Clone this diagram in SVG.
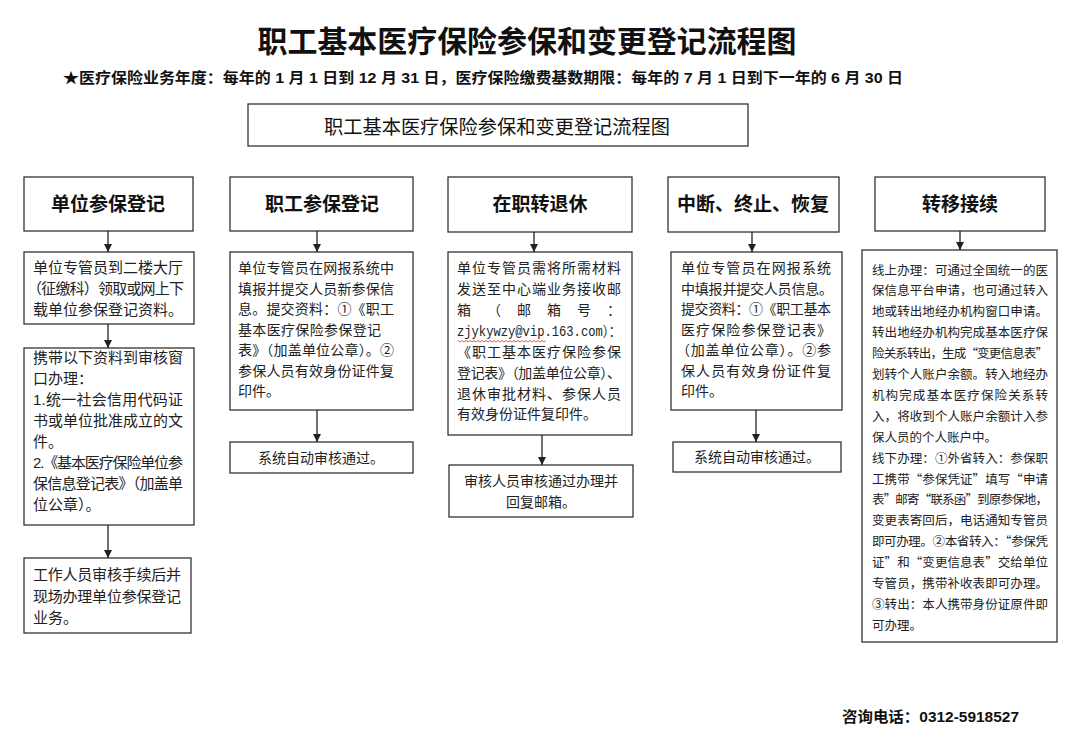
<svg xmlns="http://www.w3.org/2000/svg" width="1080" height="730" viewBox="0 0 1080 730">
<style>
.bg{fill:#fff}
.box{fill:#fff;stroke:#333;stroke-width:1.3}
.title{font-family:"Liberation Sans","Noto Sans CJK SC",sans-serif;font-size:30px;font-weight:700;fill:#111;text-anchor:middle}
.sub{font-family:"Liberation Sans","Noto Sans CJK SC",sans-serif;font-size:15px;font-weight:700;fill:#111}
.tb{font-family:"Noto Sans CJK SC",sans-serif;font-size:19px;fill:#111;text-anchor:middle}
.hd{font-family:"Noto Sans CJK SC",sans-serif;font-size:19px;font-weight:700;fill:#111;text-anchor:middle}
.t15{font-family:"Liberation Sans","Noto Sans CJK SC",sans-serif;font-size:15px;fill:#222}
.t14{font-family:"Liberation Sans","Noto Sans CJK SC",sans-serif;font-size:14px;fill:#222}
.t12{font-family:"Noto Sans CJK SC",sans-serif;font-size:12.5px;fill:#222}
.mono{font-family:"Liberation Mono","Noto Sans CJK SC",monospace;font-size:14px;fill:#222}
.c{text-anchor:middle}
.conn line{stroke:#222;stroke-width:1.3;marker-end:url(#ah)}
</style>
<defs>
<marker id="ah" viewBox="0 0 10 10" refX="10" refY="5" markerWidth="8" markerHeight="8" markerUnits="userSpaceOnUse" orient="auto">
<path d="M0,0 L10,5 L0,10 Z" fill="#222"/>
</marker>
</defs>
<rect class="bg" x="0" y="0" width="1080" height="730"/>

<g id="title">
<text class="title" x="527" y="52" textLength="539" lengthAdjust="spacingAndGlyphs">职工基本医疗保险参保和变更登记流程图</text>
<text class="sub" x="63" y="83" textLength="840" lengthAdjust="spacingAndGlyphs">★医疗保险业务年度：每年的 1 月 1 日到 12 月 31 日，医疗保险缴费基数期限：每年的 7 月 1 日到下一年的 6 月 30 日</text>
</g>

<g id="title-box">
<rect class="box" x="248" y="104" width="500" height="42"/>
<text class="tb" x="497" y="134" textLength="346" lengthAdjust="spacingAndGlyphs">职工基本医疗保险参保和变更登记流程图</text>
</g>

<!-- Column headers -->
<g id="h1"><rect class="box" x="24" y="177" width="169" height="54"/><text class="hd" x="108" y="211">单位参保登记</text></g>
<g id="h2"><rect class="box" x="230" y="177" width="183" height="54"/><text class="hd" x="322" y="211">职工参保登记</text></g>
<g id="h3"><rect class="box" x="448" y="177" width="184" height="55"/><text class="hd" x="540" y="211">在职转退休</text></g>
<g id="h4"><rect class="box" x="668" y="177" width="171" height="55"/><text class="hd" x="753" y="211">中断、终止、恢复</text></g>
<g id="h5"><rect class="box" x="875" y="177" width="170" height="54"/><text class="hd" x="960" y="211">转移接续</text></g>

<!-- Column 1 -->
<g id="c1b1">
<rect class="box" x="24" y="252" width="170" height="72"/>
<text class="t15" x="33" y="273" textLength="150" lengthAdjust="spacing">单位专管员到二楼大厅</text>
<text class="t15" x="27" y="294" textLength="157" lengthAdjust="spacing">（征缴科）领取或网上下</text>
<text class="t15" x="33" y="315" textLength="150" lengthAdjust="spacing">载单位参保登记资料。</text>
</g>
<g id="c1b2">
<rect class="box" x="24" y="348" width="170" height="177"/>
<text class="t15" x="33" y="363" textLength="150" lengthAdjust="spacing">携带以下资料到审核窗</text>
<text class="t15" x="33" y="384">口办理：</text>
<text class="t15" x="33" y="405" textLength="150" lengthAdjust="spacing">1.统一社会信用代码证</text>
<text class="t15" x="33" y="426" textLength="150" lengthAdjust="spacing">书或单位批准成立的文</text>
<text class="t15" x="33" y="447">件。</text>
<text class="t15" x="33" y="468" textLength="150" lengthAdjust="spacing">2.《基本医疗保险单位参</text>
<text class="t15" x="33" y="489" textLength="150" lengthAdjust="spacing">保信息登记表》（加盖单</text>
<text class="t15" x="33" y="510">位公章）。</text>
</g>
<g id="c1b3">
<rect class="box" x="24" y="558" width="167" height="75"/>
<text class="t15" x="33" y="580" textLength="148" lengthAdjust="spacing">工作人员审核手续后并</text>
<text class="t15" x="33" y="602" textLength="148" lengthAdjust="spacing">现场办理单位参保登记</text>
<text class="t15" x="33" y="623">业务。</text>
</g>

<!-- Column 2 -->
<g id="c2b1">
<rect class="box" x="230" y="252" width="183" height="158"/>
<text class="t14" x="238" y="273" textLength="156" lengthAdjust="spacing">单位专管员在网报系统中</text>
<text class="t14" x="238" y="293.5" textLength="156" lengthAdjust="spacing">填报并提交人员新参保信</text>
<text class="t14" x="238" y="314" textLength="156" lengthAdjust="spacing">息。提交资料：①《职工</text>
<text class="t14" x="238" y="334.5" textLength="143" lengthAdjust="spacing">基本医疗保险参保登记</text>
<text class="t14" x="238" y="355" textLength="156" lengthAdjust="spacing">表》（加盖单位公章）。②</text>
<text class="t14" x="238" y="375.5" textLength="156" lengthAdjust="spacing">参保人员有效身份证件复</text>
<text class="t14" x="238" y="396">印件。</text>
</g>
<g id="c2b2">
<rect class="box" x="230" y="442" width="183" height="31"/>
<text class="t14 c" x="321" y="462.5">系统自动审核通过。</text>
</g>

<!-- Column 3 -->
<g id="c3b1">
<rect class="box" x="448" y="252" width="184" height="183"/>
<text class="t14" x="457" y="273" textLength="164" lengthAdjust="spacing">单位专管员需将所需材料</text>
<text class="t14" x="457" y="294" textLength="164" lengthAdjust="spacing">发送至中心端业务接收邮</text>
<text class="t14" x="457" y="315" textLength="164" lengthAdjust="spacing">箱（邮箱号：</text>
<text class="mono" x="457" y="336" textLength="164" lengthAdjust="spacingAndGlyphs">zjykywzy@vip.163.com）：</text>
<path d="M458,340.5 l2,1.5 l2,-1.5 l2,1.5 l2,-1.5 l2,1.5 l2,-1.5 l2,1.5 l2,-1.5 l2,1.5 l2,-1.5 l2,1.5 l2,-1.5 l2,1.5 l2,-1.5 l2,1.5 l2,-1.5 l2,1.5 l2,-1.5 l2,1.5 l2,-1.5 l2,1.5 l2,-1.5 l2,1.5 l2,-1.5 l2,1.5 l2,-1.5 l2,1.5 l2,-1.5 l2,1.5 l2,-1.5 l2,1.5 l2,-1.5 l2,1.5 l2,-1.5 l2,1.5 l2,-1.5 l2,1.5 l2,-1.5 l2,1.5 l2,-1.5 l2,1.5 l2,-1.5 l2,1.5 l2,-1.5" fill="none" stroke="#d33" stroke-width="0.8"/>
<text class="t14" x="457" y="357" textLength="164" lengthAdjust="spacing">《职工基本医疗保险参保</text>
<text class="t14" x="457" y="378" textLength="164" lengthAdjust="spacing">登记表》（加盖单位公章）、</text>
<text class="t14" x="457" y="399" textLength="164" lengthAdjust="spacing">退休审批材料、参保人员</text>
<text class="t14" x="457" y="419" textLength="140" lengthAdjust="spacing">有效身份证件复印件。</text>
</g>
<g id="c3b2">
<rect class="box" x="449" y="465" width="184" height="52"/>
<text class="t14 c" x="541" y="485.5">审核人员审核通过办理并</text>
<text class="t14 c" x="541" y="507">回复邮箱。</text>
</g>

<!-- Column 4 -->
<g id="c4b1">
<rect class="box" x="671" y="252" width="171" height="158"/>
<text class="t14" x="681" y="273" textLength="150" lengthAdjust="spacing">单位专管员在网报系统</text>
<text class="t14" x="681" y="293.5" textLength="152" lengthAdjust="spacing">中填报并提交人员信息。</text>
<text class="t14" x="681" y="314" textLength="150" lengthAdjust="spacing">提交资料：①《职工基本</text>
<text class="t14" x="681" y="334.5" textLength="150" lengthAdjust="spacing">医疗保险参保登记表》</text>
<text class="t14" x="676" y="355" textLength="155" lengthAdjust="spacing">（加盖单位公章）。②参</text>
<text class="t14" x="681" y="375.5" textLength="150" lengthAdjust="spacing">保人员有效身份证件复</text>
<text class="t14" x="681" y="396">印件。</text>
</g>
<g id="c4b2">
<rect class="box" x="673" y="442" width="168" height="30"/>
<text class="t14 c" x="757" y="462">系统自动审核通过。</text>
</g>

<!-- Column 5 -->
<g id="c5b1">
<rect class="box" x="862" y="250" width="195" height="392"/>
<text class="t12" x="872" y="274.5" textLength="176" lengthAdjust="spacing">线上办理：可通过全国统一的医</text>
<text class="t12" x="872" y="295.4" textLength="176" lengthAdjust="spacing">保信息平台申请，也可通过转入</text>
<text class="t12" x="872" y="316.3" textLength="176" lengthAdjust="spacing">地或转出地经办机构窗口申请。</text>
<text class="t12" x="872" y="337.2" textLength="176" lengthAdjust="spacing">转出地经办机构完成基本医疗保</text>
<text class="t12" x="872" y="358.1" textLength="176" lengthAdjust="spacing">险关系转出，生成“变更信息表”</text>
<text class="t12" x="872" y="379" textLength="176" lengthAdjust="spacing">划转个人账户余额。转入地经办</text>
<text class="t12" x="872" y="399.9" textLength="176" lengthAdjust="spacing">机构完成基本医疗保险关系转</text>
<text class="t12" x="872" y="420.8" textLength="176" lengthAdjust="spacing">入，将收到个人账户余额计入参</text>
<text class="t12" x="872" y="441.7">保人员的个人账户中。</text>
<text class="t12" x="872" y="462.6" textLength="176" lengthAdjust="spacing">线下办理：①外省转入：参保职</text>
<text class="t12" x="872" y="483.5" textLength="176" lengthAdjust="spacing">工携带“参保凭证”填写“申请</text>
<text class="t12" x="872" y="504.4" textLength="176" lengthAdjust="spacing">表”邮寄“联系函”到原参保地，</text>
<text class="t12" x="872" y="525.3" textLength="176" lengthAdjust="spacing">变更表寄回后，电话通知专管员</text>
<text class="t12" x="872" y="546.2" textLength="176" lengthAdjust="spacing">即可办理。②本省转入：“参保凭</text>
<text class="t12" x="872" y="567.1" textLength="176" lengthAdjust="spacing">证”和“变更信息表”交给单位</text>
<text class="t12" x="872" y="588" textLength="176" lengthAdjust="spacing">专管员，携带补收表即可办理。</text>
<text class="t12" x="872" y="608.9" textLength="176" lengthAdjust="spacing">③转出：本人携带身份证原件即</text>
<text class="t12" x="872" y="629.8">可办理。</text>
</g>

<g id="phone">
<text class="sub" x="842" y="722" textLength="177" lengthAdjust="spacingAndGlyphs">咨询电话：0312-5918527</text>
</g>

<g id="connectors" class="conn">
<line x1="108" y1="231" x2="108" y2="252"/>
<line x1="108" y1="324" x2="108" y2="348"/>
<line x1="108" y1="525" x2="108" y2="558"/>
<line x1="317" y1="231" x2="317" y2="252"/>
<line x1="317" y1="410" x2="317" y2="442"/>
<line x1="534" y1="232" x2="534" y2="252"/>
<line x1="542" y1="435" x2="542" y2="465"/>
<line x1="752" y1="232" x2="752" y2="252"/>
<line x1="756" y1="410" x2="756" y2="442"/>
<line x1="960" y1="231" x2="960" y2="250"/>
</g>
</svg>
